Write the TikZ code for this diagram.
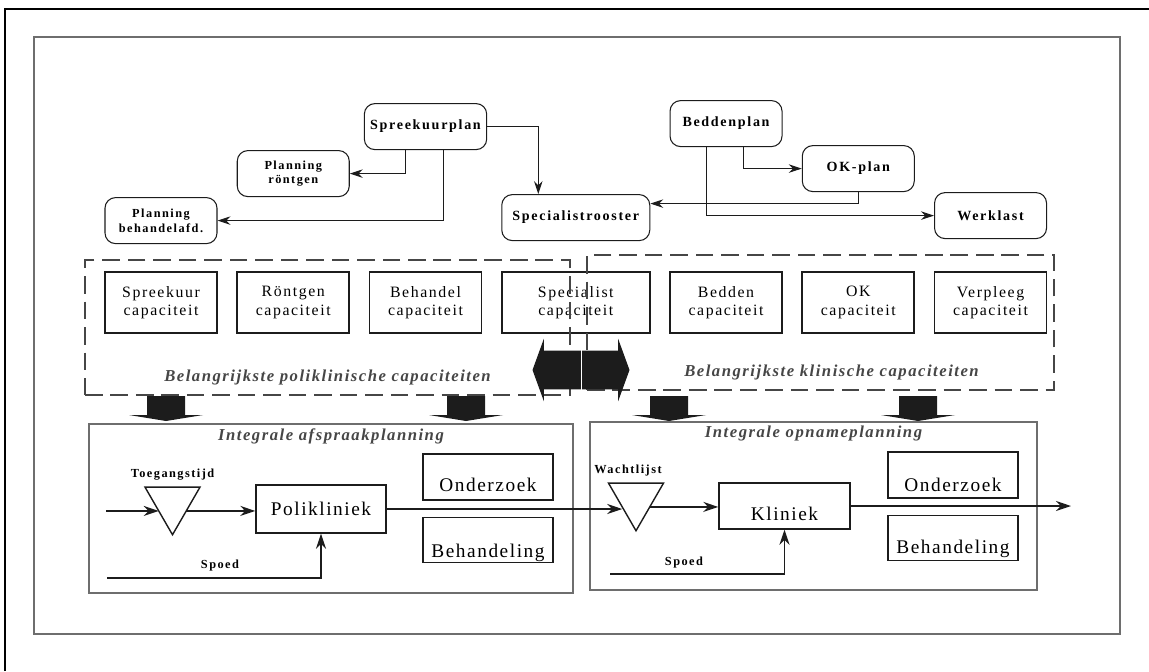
\documentclass[tikz,border=0pt]{standalone}
\usepackage{fontspec}
\setmainfont{Liberation Serif}
\newfontfamily\planfont[LetterSpace=12]{Liberation Serif}
\newfontfamily\capfont[LetterSpace=10]{Liberation Serif}
\newfontfamily\groupfont[LetterSpace=9]{Liberation Serif}
\newfontfamily\flowfont[LetterSpace=8]{Liberation Serif}
\usepackage{tikz}
\usetikzlibrary{positioning,arrows.meta,shapes.geometric,shapes.arrows}
\definecolor{ink}{RGB}{28,28,28}
\definecolor{framegray}{RGB}{110,110,110}
\definecolor{dashgray}{RGB}{70,70,70}
\definecolor{titlegray}{RGB}{70,70,70}

\begin{document}
\begin{tikzpicture}[
  planbox/.style={draw=ink, line width=0.6pt, rounded corners=6pt, minimum width=2.24cm, minimum height=0.92cm, align=center, font=\planfont\bfseries\fontsize{8}{9}\selectfont},
  smallplan/.style={planbox, font=\planfont\bfseries\fontsize{7}{8.5}\selectfont},
  capbox/.style={draw=ink, line width=1pt, minimum width=2.24cm, minimum height=1.22cm, align=center, font=\capfont\fontsize{9}{10.5}\selectfont},
  groupbox/.style={draw=dashgray, line width=0.7pt, dash pattern=on 10pt off 4.5pt, inner sep=0pt, outer sep=0pt},
  grouplabel/.style={inner sep=0pt, text=titlegray, font=\groupfont\bfseries\itshape\fontsize{9.5}{11}\selectfont},
  areabox/.style={draw=framegray, line width=0.6pt, inner sep=0pt, outer sep=0pt},
  unitbox/.style={draw=ink, line width=0.8pt, inner sep=2pt, minimum width=2.6cm, minimum height=0.92cm, font=\flowfont\fontsize{11}{12}\selectfont},
  sunk/.style={text height=#1, text depth=0pt},
  queuetri/.style={draw=ink, line width=0.8pt, regular polygon, regular polygon sides=3, shape border rotate=180, minimum size=1.27cm, inner sep=0pt, outer sep=0pt},
  tagtext/.style={inner sep=0pt, font=\planfont\bfseries\fontsize{7}{8}\selectfont},
  link/.style={-{Stealth[length=2.6mm,width=1.7mm]}, line width=0.6pt, draw=ink},
  flow/.style={-{Stealth[length=3mm,width=2mm]}, line width=1pt, draw=ink}]
  \useasboundingbox (0,0) rectangle (22.98,-13.42);
  \draw[line width=1.7pt] (0.1,-13.42) -- (0.1,-0.18) -- (22.98,-0.18);
  \draw[areabox] (0.68,-0.74) rectangle (22.4,-12.68);
  % capaciteiten
  \node[capbox] (spcap) at (3.22,-6.05) {Spreekuur\\capaciteit};
  \node[capbox, right=0.37cm of spcap] (rocap) {Röntgen\\capaciteit};
  \node[capbox, right=0.37cm of rocap] (becap) {Behandel\\capaciteit};
  \node[capbox, right=0.37cm of becap, minimum width=2.96cm] (specap) {Specialist\\capaciteit};
  \node[capbox, right=0.37cm of specap] (bedcap) {Bedden\\capaciteit};
  \node[capbox, right=0.37cm of bedcap] (okcap) {OK\\capaciteit};
  \node[capbox, right=0.37cm of okcap] (vercap) {Verpleeg\\capaciteit};
  % plannen
  \node[planbox, above=2.42cm of becap] (spreek) {Spreekuurplan};
  \node[smallplan, above=1.48cm of rocap] (plroent) {Planning\\röntgen};
  \node[smallplan, above=0.54cm of spcap] (plbeh) {Planning\\behandelafd.};
  \node[planbox, above=0.60cm of specap, minimum width=2.96cm] (specr) {Specialistrooster};
  \node[planbox, above=2.48cm of bedcap] (bedden) {Beddenplan};
  \node[planbox, above=1.58cm of okcap] (okplan) {OK-plan};
  \node[planbox, above=0.64cm of vercap] (werklast) {Werklast};
  \draw[link] ([xshift=-0.4cm]spreek.south) |- (plroent.east);
  \draw[link] ([xshift=0.36cm]spreek.south) |- (plbeh.east);
  \draw[link] (spreek.east) -| ([xshift=-0.75cm]specr.north);
  \draw[link] ([xshift=0.34cm]bedden.south) |- (okplan.west);
  \draw[link] ([xshift=-0.4cm]bedden.south) |- (werklast.west);
  \draw[link] (okplan.south) |- ([yshift=0.28cm]specr.east);
  % groepen
  \node[groupbox, minimum width=9.7cm, minimum height=2.7cm] (polgroup) at (6.55,-6.55) {};
  \node[groupbox, minimum width=9.34cm, minimum height=2.7cm] (klingroup) at (16.41,-6.45) {};
  \node[grouplabel, above=0.2cm of polgroup.south] (pollabel) {Belangrijkste poliklinische capaciteiten};
  \node[grouplabel, above=0.19cm of klingroup.south, xshift=0.22cm] (klinlabel) {Belangrijkste klinische capaciteiten};
  \node[double arrow, fill=ink, minimum height=1.94cm, inner xsep=0pt, inner ysep=0.38cm, double arrow head extend=0.24cm, double arrow tip angle=140] (swap) at (11.62,-7.4) {};
  \draw[white, line width=0.5pt] (swap.north) -- (swap.south);
  \foreach \x in {3.32,9.32,13.38,18.36}
    \fill[ink] (\x,-7.92) ++(-0.38,0) -- ++(0.76,0) -- ++(0,-0.38) -- ++(0.36,0) -- ++(-0.74,-0.12) -- ++(-0.74,0.12) -- ++(0.36,0) -- cycle;
  % afspraakplanning
  \node[areabox, minimum width=9.68cm, minimum height=3.38cm] (afspraak) at (6.62,-10.17) {};
  \node[grouplabel, below=0.08cm of afspraak.north] (afsprtitle) {Integrale afspraakplanning};
  \node[queuetri] (toegang) at (3.45,-10.06) {};
  \node[tagtext, above=0.14cm of toegang.north] (toeglabel) {Toegangstijd};
  \node[unitbox, minimum height=0.96cm] (poli) at (6.42,-10.18) {Polikliniek};
  \node[unitbox, sunk=16pt] (ond1) at (9.76,-9.54) {Onderzoek};
  \node[unitbox, sunk=20pt, minimum height=0.9cm, below=0.32cm of ond1] (beh1) {Behandeling};
  \coordinate (in1) at (2.12,-10.2);
  \coordinate (sp1) at (2.14,-11.56);
  \node[tagtext] (spoed1) at (4.4,-11.32) {Spoed};
  % opnameplanning
  \node[areabox, minimum width=8.94cm, minimum height=3.36cm] (opname) at (16.27,-10.12) {};
  \node[grouplabel, below=0.08cm of opname.north] (opntitle) {Integrale opnameplanning};
  \node[queuetri] (wacht) at (12.72,-9.98) {};
  \node[tagtext, above=0.14cm of wacht.north, xshift=-0.16cm] (wachtlabel) {Wachtlijst};
  \node[unitbox, sunk=16pt, minimum width=2.62cm] (klin) at (15.69,-10.12) {Kliniek};
  \node[unitbox, sunk=19pt] (ond2) at (19.06,-9.5) {Onderzoek};
  \node[unitbox, sunk=17.6pt, minimum height=0.9cm, below=0.32cm of ond2] (beh2) {Behandeling};
  \coordinate (out2) at (21.42,-10.12);
  \coordinate (sp2) at (12.2,-11.48);
  \node[tagtext] (spoed2) at (13.68,-11.26) {Spoed};
  \draw[flow] (toegang.side 3 -| in1) -- (toegang.side 3);
  \draw[flow] (toegang.side 1) -- (toegang.side 1 -| poli.west);
  \draw[flow] (sp1) -| (poli.south);
  \draw[flow] (poli.east) -- (poli.east -| wacht.side 3);
  \draw[flow] (wacht.side 1) -- (wacht.side 1 -| klin.west);
  \draw[flow] (klin.east) -- (klin.east -| out2);
  \draw[flow] (sp2) -| (klin.south);
\end{tikzpicture}
\end{document}
